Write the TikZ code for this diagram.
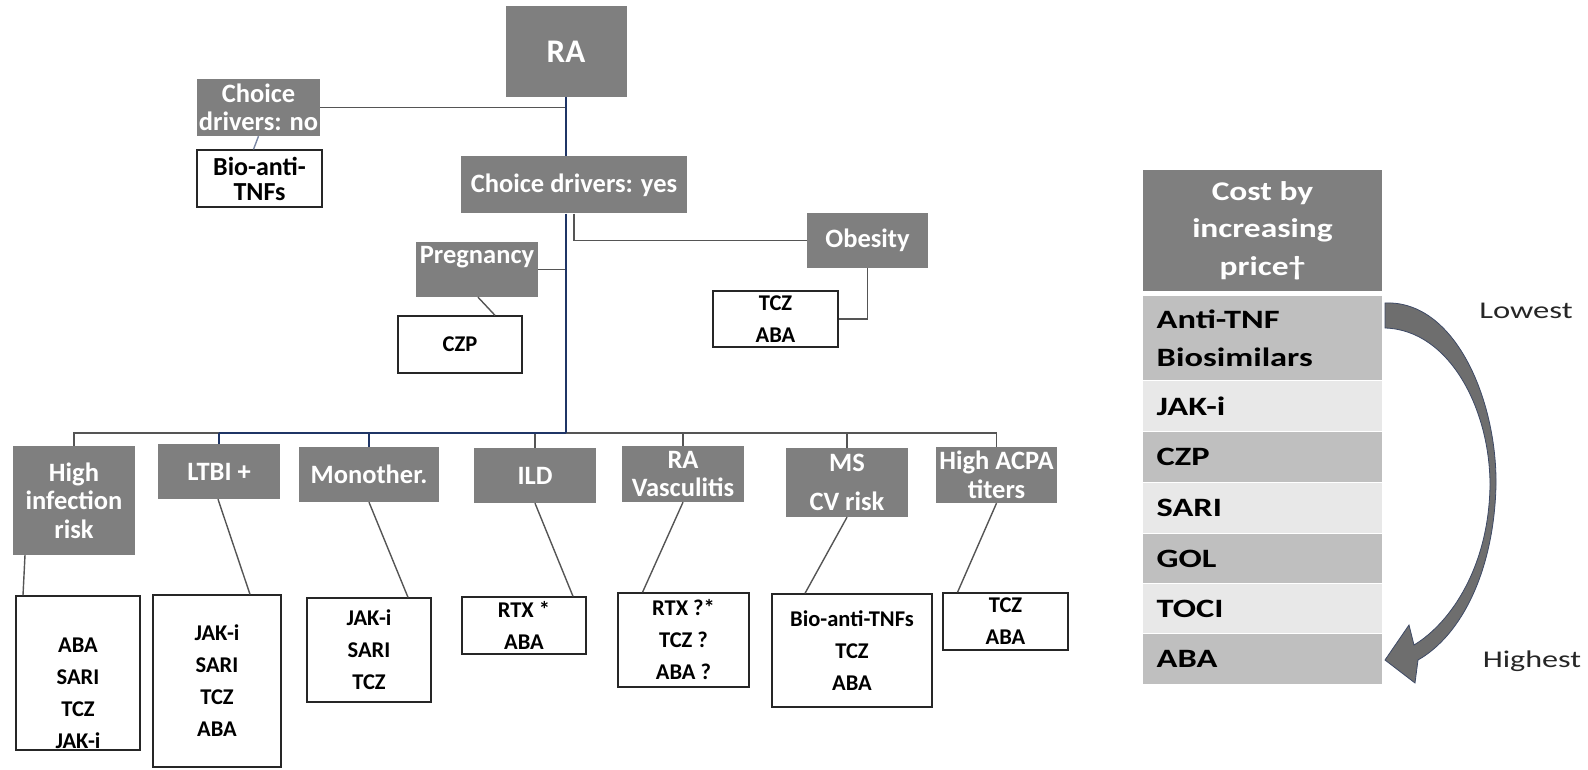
\documentclass[tikz,border=0pt]{standalone}
\usepackage{fontspec}
\setmainfont{Carlito}
\usetikzlibrary{calc}

\definecolor{boxgray}{HTML}{7F7F7F}
\definecolor{linegray}{HTML}{555555}
\definecolor{trunkblue}{HTML}{1F3566}
\definecolor{rowdark}{HTML}{BFBFBF}
\definecolor{rowlight}{HTML}{E8E8E8}
\definecolor{arrowgray}{HTML}{6E6E6E}
\definecolor{arrowedge}{HTML}{3E4A66}

\newcommand{\gfont}{\fontsize{26.5}{28.5}\selectfont\bfseries}
\newcommand{\cfont}{\fontsize{22.5}{32}\selectfont\bfseries}
\newcommand{\tfont}{\fontsize{26.5}{38}\selectfont\bfseries}
\newcommand{\wide}[1]{\scalebox{1.3}[1]{#1}}

\tikzset{
  grbox/.style={fill=boxgray, text=white, font=\gfont, align=center, inner sep=0pt},
  wbox/.style={draw=black!85, line width=1.3pt, fill=white, font=\cfont, align=center, inner sep=0pt},
  link/.style={draw=linegray, line width=1.4pt},
  trunk/.style={draw=trunkblue, line width=2.4pt},
  costrow/.style={anchor=north west, minimum width=239pt, text width=212pt, align=left, inner sep=0pt, font=\tfont}
}

\begin{document}
\begin{tikzpicture}[x=1pt,y=-1pt]
	\useasboundingbox (0,0) rectangle (1588,770);

	\node[grbox, minimum width=121pt, minimum height=91pt, font=\fontsize{33}{36}\selectfont\bfseries] (ra) at (566,51.5) {RA};
	\node[grbox, minimum width=123pt, minimum height=57pt] (no) at (258.5,107.5) {Choice\\drivers: no};
	\node[wbox, minimum width=125pt, minimum height=57pt, font=\fontsize{26}{25}\selectfont\bfseries] (bio) at (259.5,178.5) {Bio-anti-\\TNFs};
	\node[grbox, minimum width=226pt, minimum height=57pt] (yes) at (574,185) {Choice drivers: yes};
	\node[grbox, minimum width=122pt, minimum height=55pt] (preg) at (477,269.5) {Pregnancy\\[-8pt]\strut};
	\node[wbox, minimum width=124pt, minimum height=57pt] (czp) at (460,344.5) {CZP};
	\node[grbox, minimum width=121pt, minimum height=55pt] (ob) at (867.5,240.5) {Obesity};
	\node[wbox, minimum width=125pt, minimum height=56pt] (obc) at (775.5,319) {TCZ\\ABA};

	\node[grbox, minimum width=122pt, minimum height=109pt] (hir) at (74,500.5) {High\\infection\\risk};
	\node[grbox, minimum width=122pt, minimum height=55pt] (ltbi) at (219,471.5) {LTBI +};
	\node[grbox, minimum width=140pt, minimum height=55pt] (mono) at (369,474.5) {Monother.};
	\node[grbox, minimum width=122pt, minimum height=55pt] (ild) at (535,475.5) {ILD};
	\node[grbox, minimum width=122pt, minimum height=56pt] (rav) at (683,474) {RA\\Vasculitis};
	\node[grbox, minimum width=122pt, minimum height=69pt] (ms) at (847,482.5) {MS\\[10pt]CV risk};
	\node[grbox, minimum width=121pt, minimum height=56pt] (acpa) at (996.5,475) {High ACPA\\titers};

	\node[wbox, minimum width=124pt, minimum height=154pt] (hirc) at (78,673) {\strut\\ABA\\SARI\\TCZ\\JAK-i};
	\node[wbox, minimum width=128pt, minimum height=172pt] (ltbic) at (217,681) {JAK-i\\SARI\\TCZ\\ABA};
	\node[wbox, minimum width=124pt, minimum height=104pt] (monoc) at (369,650) {JAK-i\\SARI\\TCZ};
	\node[wbox, minimum width=124pt, minimum height=57pt] (ildc) at (524,625.5) {RTX *\\ABA};
	\node[wbox, minimum width=131pt, minimum height=94pt] (ravc) at (683.5,640) {RTX ?*\\TCZ ?\\ABA ?};
	\node[wbox, minimum width=160pt, minimum height=113pt] (msc) at (852,650.5) {Bio-anti-TNFs\\TCZ\\ABA};
	\node[wbox, minimum width=125pt, minimum height=57pt] (acpac) at (1005.5,621.5) {TCZ\\ABA};

	\coordinate (bus) at (566,433);

	\draw[link] (no.east) -- (no.east -| bus);
	\draw[link, draw=trunkblue!60] (no.south) -- ($(bio.north)+(-6,0)$);
	\draw[link] (yes.south) |- (ob.west);
	\draw[link] (preg.east) -- (preg.east -| bus);
	\draw[link] ($(preg.south)+(1,0)$) -- ($(czp.north)+(35,0)$);
	\draw[link] (ob.south) |- (obc.east);

	\draw[link] (hir.north) -- (hir.north |- bus) -- (acpa.north |- bus) -- (acpa.north);
	\draw[link] (ild.north) -- (ild.north |- bus);
	\draw[link] (rav.north) -- (rav.north |- bus);
	\draw[link] (ms.north) -- (ms.north |- bus);
	\draw[trunk, line width=1.4pt] (ltbi.north) -- (ltbi.north |- bus);
	\draw[trunk, line width=1.4pt] (mono.north) -- (mono.north |- bus);
	\draw[trunk] (ltbi.north |- bus) -- (bus);
	\draw[trunk] (ra.south) -- (ra.south |- yes.north);
	\draw[trunk] (ra.south |- yes.south) -- (bus);

	\draw[link] ($(hir.south)+(-49,0)$) -- ($(hirc.north)+(-55,0)$);
	\draw[link] ($(ltbi.south)+(-1,0)$) -- ($(ltbic.north)+(33,0)$);
	\draw[link] (mono.south) -- ($(monoc.north)+(39,0)$);
	\draw[link] (ild.south) -- ($(ildc.north)+(49,0)$);
	\draw[link] (rav.south) -- ($(ravc.north)+(-41,0)$);
	\draw[link] (ms.south) -- ($(msc.north)+(-47,0)$);
	\draw[link] (acpa.south) -- ($(acpac.north)+(-48,0)$);

	\node[fill=boxgray, text=white, minimum width=239pt, minimum height=121pt, inner sep=0pt, align=center, font=\fontsize{27}{37.5}\selectfont\bfseries] (head) at (1262.5,230.5) {\scalebox{1.24}[1]{Cost by}\\\scalebox{1.24}[1]{increasing}\\\scalebox{1.24}[1]{price†}};
	\node[costrow, fill=rowdark, minimum height=84pt] (r1) at (1143,296) {\wide{Anti-TNF}\\\wide{Biosimilars}};
	\node[costrow, fill=rowlight, minimum height=50pt] (r2) at (1143,381) {\wide{JAK-i}};
	\node[costrow, fill=rowdark, minimum height=50pt] (r3) at (1143,432) {\wide{CZP}};
	\node[costrow, fill=rowlight, minimum height=50pt] (r4) at (1143,483) {\wide{SARI}};
	\node[costrow, fill=rowdark, minimum height=49pt] (r5) at (1143,534) {\wide{GOL}};
	\node[costrow, fill=rowlight, minimum height=49pt] (r6) at (1143,584) {\wide{TOCI}};
	\node[costrow, fill=rowdark, minimum height=50pt] (r7) at (1143,634) {\wide{ABA}};

	\filldraw[fill=arrowgray, draw=arrowedge, line width=0.8pt] (1385,303) .. controls (1455,300) and (1497,400) .. (1496,485) .. controls (1494,570) and (1462,635) .. (1418,660) -- (1415,683) -- (1385,660) -- (1409,625) -- (1414,645) .. controls (1452,622) and (1489,565) .. (1490,485) .. controls (1490,410) and (1450,330) .. (1385,328) -- cycle;

	\node[font=\fontsize{24}{28}\selectfont, anchor=base, text=black!85] (low) at (1526,318) {\scalebox{1.36}[1]{Lowest}};
	\node[font=\fontsize{24}{28}\selectfont, anchor=base, text=black!85] (high) at (1532,667) {\scalebox{1.34}[1]{Highest}};
\end{tikzpicture}
\end{document}
